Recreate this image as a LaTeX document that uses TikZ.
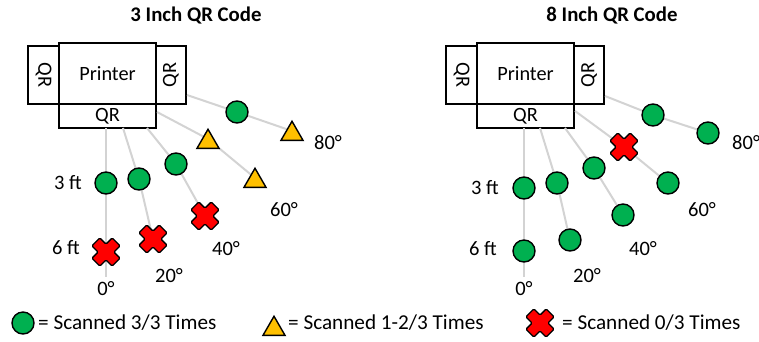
\documentclass[tikz,border=0pt]{standalone}
\usepackage{fontspec}
\setmainfont{Carlito}
\usepackage{graphicx}
\usetikzlibrary{shapes.geometric}
\definecolor{qgreen}{HTML}{00B050}
\definecolor{qorange}{HTML}{FFC000}
\definecolor{qred}{HTML}{FF0000}
\definecolor{raygray}{HTML}{D3D3D3}
\tikzset{
  x=1pt, y=-1pt,
  txt/.style={inner sep=0pt, font=\fontsize{20.5}{24}\selectfont},
  lgd/.style={inner sep=0pt, font=\fontsize{21.2}{25}\selectfont},
  ttl/.style={inner sep=0pt, font=\fontsize{20.8}{24}\selectfont\bfseries},
  box/.style={draw=black, line width=1.5pt, fill=white, inner sep=0pt, font=\fontsize{20.3}{24}\selectfont},
  ray/.style={draw=raygray, line width=2pt},
  okdot/.style={circle, draw=black, line width=1.4pt, fill=qgreen, minimum size=22pt, inner sep=0pt},
  halftri/.style={regular polygon, regular polygon sides=3, draw=black, line width=1.4pt, fill=qorange, minimum size=25.5pt, inner sep=0pt, yshift=-3pt},
  xmark/.pic={
    \filldraw[fill=qred, draw=black, line width=1.3pt, rounded corners=1.2pt, rotate=45]
      (5.6,5.6) -- (5.6,14.3) -- (-5.6,14.3) -- (-5.6,5.6) -- (-14.3,5.6) -- (-14.3,-5.6)
      -- (-5.6,-5.6) -- (-5.6,-14.3) -- (5.6,-14.3) -- (5.6,-5.6) -- (14.3,-5.6) -- (14.3,5.6) -- cycle;
  }
}
\begin{document}
\begin{tikzpicture}
\useasboundingbox (0,0) rectangle (759,341);

% ================= Left panel =================
\node[ttl] (t1) at (196,16) {3 Inch QR Code};
\node[box, minimum width=31pt, minimum height=58pt] (lqr1) at (43.5,75) {\rotatebox{-90}{QR}};
\node[box, minimum width=30pt, minimum height=58pt] (rqr1) at (171,75) {\rotatebox{90}{QR}};
\node[box, minimum width=97pt, minimum height=24pt] (bqr1) at (107.5,116) {QR};
\node[box, minimum width=97pt, minimum height=61pt] (pr1) at (107.5,73.5) {Printer};

\coordinate (a0s) at (106,128);  \coordinate (a0a) at (106,183); \coordinate (a0b) at (106,252); \coordinate (a0e) at (106,277);
\coordinate (a20s) at (123,128); \coordinate (a20a) at (139,179); \coordinate (a20b) at (153,239);
\coordinate (a40s) at (147,128); \coordinate (a40a) at (176,164); \coordinate (a40b) at (205,216);
\coordinate (a60s) at (157,112); \coordinate (a60a) at (208,139); \coordinate (a60b) at (255,178);
\coordinate (a80s) at (187,95);  \coordinate (a80a) at (237,112); \coordinate (a80b) at (292,131);

\draw[ray] (a0s) -- (a0a) -- (a0b) -- (a0e);
\draw[ray] (a20s) -- (a20a) -- (a20b);
\draw[ray] (a40s) -- (a40a) -- (a40b);
\draw[ray] (a60s) -- (a60a) -- (a60b);
\draw[ray] (a80s) -- (a80a) -- (a80b);

\node[okdot] (m0a) at (a0a) {};
\pic at (a0b) {xmark};
\node[okdot] (m20a) at (a20a) {};
\pic at (a20b) {xmark};
\node[okdot] (m40a) at (a40a) {};
\pic at (a40b) {xmark};
\node[halftri] (m60a) at (a60a) {};
\node[halftri] (m60b) at (a60b) {};
\node[okdot] (m80a) at (a80a) {};
\node[halftri] (m80b) at (a80b) {};

\node[txt] (l3ft1) at (68,183) {3 ft};
\node[txt] (l6ft1) at (66,248) {6 ft};
\node[txt] (d0l) at (106,289) {0°};
\node[txt] (d20l) at (169,276) {20°};
\node[txt] (d40l) at (226,249) {40°};
\node[txt] (d60l) at (284,210) {60°};
\node[txt] (d80l) at (328,143) {80°};

% ================= Right panel =================
\node[ttl] (t2) at (612,16) {8 Inch QR Code};
\node[box, minimum width=31pt, minimum height=58pt] (lqr2) at (461.5,75) {\rotatebox{-90}{QR}};
\node[box, minimum width=30pt, minimum height=58pt] (rqr2) at (589,75) {\rotatebox{90}{QR}};
\node[box, minimum width=97pt, minimum height=24pt] (bqr2) at (525.5,116) {QR};
\node[box, minimum width=97pt, minimum height=61pt] (pr2) at (525.5,73.5) {Printer};

\coordinate (b0s) at (524,128);  \coordinate (b0a) at (524,188); \coordinate (b0b) at (524,251); \coordinate (b0e) at (524,277);
\coordinate (b20s) at (540,128); \coordinate (b20a) at (557,183); \coordinate (b20b) at (570,240);
\coordinate (b40s) at (565,128); \coordinate (b40a) at (594,168); \coordinate (b40b) at (623,215);
\coordinate (b60s) at (575,111); \coordinate (b60a) at (624,147); \coordinate (b60b) at (668,183);
\coordinate (b80s) at (605,96);  \coordinate (b80a) at (653,115); \coordinate (b80b) at (708,133);

\draw[ray] (b0s) -- (b0a) -- (b0b) -- (b0e);
\draw[ray] (b20s) -- (b20a) -- (b20b);
\draw[ray] (b40s) -- (b40a) -- (b40b);
\draw[ray] (b60s) -- (b60a) -- (b60b);
\draw[ray] (b80s) -- (b80a) -- (b80b);

\node[okdot] (n0a) at (b0a) {};
\node[okdot] (n0b) at (b0b) {};
\node[okdot] (n20a) at (b20a) {};
\node[okdot] (n20b) at (b20b) {};
\node[okdot] (n40a) at (b40a) {};
\node[okdot] (n40b) at (b40b) {};
\pic at (b60a) {xmark};
\node[okdot] (n60b) at (b60b) {};
\node[okdot] (n80a) at (b80a) {};
\node[okdot] (n80b) at (b80b) {};

\node[txt] (l3ft2) at (485,188) {3 ft};
\node[txt] (l6ft2) at (483,249) {6 ft};
\node[txt] (d0r) at (524,289) {0°};
\node[txt] (d20r) at (587,276) {20°};
\node[txt] (d40r) at (643,249) {40°};
\node[txt] (d60r) at (702,210) {60°};
\node[txt, anchor=west] (d80r) at (732,143) {80°};

% ================= Legend =================
\node[okdot] (k1) at (23,323) {};
\node[lgd, anchor=west] (k1t) at (38,323) {= Scanned 3/3 Times};
\node[halftri] (k2) at (274,326) {};
\node[lgd, anchor=west] (k2t) at (288,323) {= Scanned 1-2/3 Times};
\coordinate (k3) at (540,323);
\pic at (k3) {xmark};
\node[lgd, anchor=west] (k3t) at (562,323) {= Scanned 0/3 Times};
\end{tikzpicture}
\end{document}
